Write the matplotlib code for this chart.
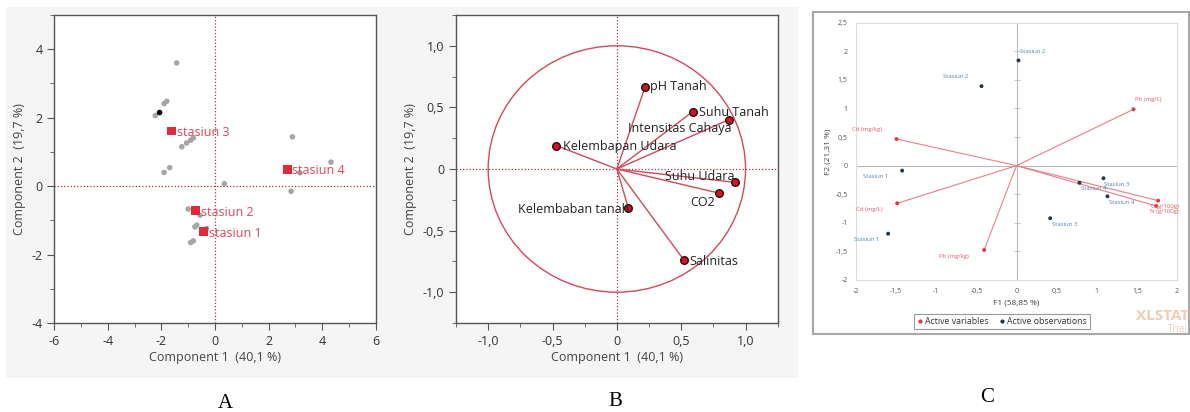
import matplotlib.pyplot as plt
from matplotlib.patches import Rectangle, Circle
from matplotlib.lines import Line2D
from matplotlib.ticker import MultipleLocator

plt.rcParams['font.family'] = ['Open Sans', 'DejaVu Sans']
plt.rcParams['axes.unicode_minus'] = False

# --- A: PCA scores (JMP) ---
obs_x = [-1.43, -1.90, -1.80, -2.23, -1.24, -1.06, -0.91, -0.81, -1.90, -1.69,
         0.35, 2.89, 4.33, 2.84, 3.17, -1.00, -0.56, -0.75, -0.68, -0.31, -0.91, -0.81]
obs_y = [3.60, 2.41, 2.48, 2.06, 1.15, 1.26, 1.34, 1.41, 0.40, 0.54,
         0.07, 1.44, 0.70, -0.15, 0.39, -0.67, -0.85, -1.19, -1.14, -1.24, -1.65, -1.60]
sel_x = [-2.07]
sel_y = [2.15]
stations = ['stasiun 3', 'stasiun 4', 'stasiun 2', 'stasiun 1']
station_x = [-1.62, 2.70, -0.72, -0.42]
station_y = [1.61, 0.49, -0.72, -1.33]

# --- B: PCA loadings (JMP) ---
load_names = ['pH Tanah', 'Suhu Tanah', 'Intensitas Cahaya', 'Kelembapan Udara',
              'Suhu Udara', 'CO2', 'Kelembaban tanah', 'Salinitas']
load_x = [0.22, 0.59, 0.87, -0.47, 0.915, 0.79, 0.09, 0.52]
load_y = [0.667, 0.466, 0.40, 0.19, -0.108, -0.195, -0.32, -0.737]

# --- C: biplot (XLSTAT) ---
c_obs_names = ['Stasiun 2', 'Stasiun 2', 'Stasiun 1', 'Stasiun 1',
               'Stasiun 3', 'Stasiun 4', 'Stasiun 4', 'Stasiun 3']
c_obs_x = [0.025, -0.436, -1.425, -1.60, 1.084, 0.785, 1.134, 0.42]
c_obs_y = [1.84, 1.39, -0.087, -1.19, -0.22, -0.30, -0.536, -0.92]
c_var_names = ['Pb (mg/L)', 'Cd (mg/kg)', 'Cd (mg/L)', 'Pb (mg/kg)', 'C (g/100g)', 'N (g/100g)']
c_var_x = [1.458, -1.495, -1.487, -0.403, 1.765, 1.74]
c_var_y = [0.985, 0.466, -0.659, -1.475, -0.612, -0.705]

W, H = 1190, 412
fig = plt.figure(figsize=(W / 100, H / 100), dpi=100)


def box(left, top, right, bottom):
    return [left / W, 1 - bottom / H, (right - left) / W, (bottom - top) / H]


# light grey backdrop behind the two JMP panels
fig.patches.append(Rectangle((6 / W, 1 - 378 / H), 792 / W, 371 / H,
                             transform=fig.transFigure, facecolor='#f5f5f5',
                             edgecolor='none', zorder=-10))

tick_col = '#333333'
red_line = '#d24a5a'


def jmp_axes(ax):
    ax.set_facecolor('white')
    for s in ax.spines.values():
        s.set_color('#555555')
        s.set_linewidth(1.0)
    ax.tick_params(which='both', direction='out', colors='#555555',
                   labelcolor=tick_col, labelsize=9)
    ax.tick_params(which='major', length=5)
    ax.tick_params(which='minor', length=3)
    ax.axhline(0, color='#b0303f', lw=0.9, ls=(0, (1, 1.6)), zorder=1)
    ax.axvline(0, color='#b0303f', lw=0.9, ls=(0, (1, 1.6)), zorder=1)


# A
ax_a = fig.add_axes(box(54.3, 15, 375.7, 323))
ax_a.set_xlim(-6, 6)
ax_a.set_ylim(-4, 5)
ax_a.xaxis.set_major_locator(MultipleLocator(2))
ax_a.xaxis.set_minor_locator(MultipleLocator(1))
ax_a.yaxis.set_major_locator(MultipleLocator(2))
ax_a.yaxis.set_minor_locator(MultipleLocator(1))
jmp_axes(ax_a)
ax_a.scatter(obs_x, obs_y, s=16, color='#a6a6a6', edgecolors='none', zorder=2)
ax_a.scatter(sel_x, sel_y, s=16, color='black', edgecolors='none', zorder=3)
ax_a.scatter(station_x, station_y, s=40, marker='s', color='#e02a3a',
             edgecolors='none', zorder=4)
for name, x, y in zip(stations, station_x, station_y):
    ax_a.annotate(name, (x, y), xytext=(3.6, -1), textcoords='offset points',
                  ha='left', va='center', fontsize=9, color='#d9485a', zorder=5)
ax_a.set_xlabel('Component 1  (40,1 %)', fontsize=9, color='#444444', labelpad=2)
ax_a.set_ylabel('Component 2  (19,7 %)', fontsize=9, color='#444444', labelpad=4)

# B
ax_b = fig.add_axes(box(456, 15, 777.7, 323))
ax_b.set_xlim(-1.25, 1.25)
ax_b.set_ylim(-1.25, 1.25)
ticks = [-1.0, -0.5, 0, 0.5, 1.0]
tick_lbls = ['-1,0', '-0,5', '0', '0,5', '1,0']
ax_b.set_xticks(ticks, tick_lbls)
ax_b.set_yticks(ticks, tick_lbls)
ax_b.xaxis.set_minor_locator(MultipleLocator(0.25))
ax_b.yaxis.set_minor_locator(MultipleLocator(0.25))
jmp_axes(ax_b)
ax_b.add_patch(Circle((0, 0), 1.0, fill=False, edgecolor=red_line, lw=1.0, zorder=2))
for x, y in zip(load_x, load_y):
    ax_b.plot([0, x], [0, y], color=red_line, lw=1.0, zorder=2)
ax_b.scatter(load_x, load_y, s=30, color='#c8182a', edgecolors='#3a0508',
             linewidths=1.0, zorder=4)
# label offsets in pixels (dx, dy) and alignment
b_offsets = [(5, 0), (6, -1.3), (-100.7, -8.3), (6.3, -1), (-70, 6), (-28.3, -9),
             (1, -1.3), (6, -1.7)]
b_align = ['left'] * 6 + ['right', 'left']
for name, x, y, (dx, dy), ha in zip(load_names, load_x, load_y, b_offsets, b_align):
    ax_b.annotate(name, (x, y), xytext=(dx * 0.72, dy * 0.72), textcoords='offset points',
                  ha=ha, va='center', fontsize=9, color='#222222', zorder=5)
ax_b.set_xlabel('Component 1  (40,1 %)', fontsize=9, color='#444444', labelpad=2)
ax_b.set_ylabel('Component 2  (19,7 %)', fontsize=9, color='#444444', labelpad=4)

# C
fig.patches.append(Rectangle((813 / W, 1 - 334 / H), 376 / W, 322 / H,
                             transform=fig.transFigure, facecolor='white',
                             edgecolor='#a8a8a8', lw=1.5, zorder=-10))
ax_c = fig.add_axes(box(856, 22.7, 1177, 280))
ax_c.set_facecolor('white')
ax_c.set_xlim(-2, 2)
ax_c.set_ylim(-2, 2.5)
cx = [-2, -1.5, -1, -0.5, 0, 0.5, 1, 1.5, 2]
cy = [-2, -1.5, -1, -0.5, 0, 0.5, 1, 1.5, 2, 2.5]
fmt = lambda v: ('%g' % v).replace('.', ',')
ax_c.set_xticks(cx, [fmt(v) for v in cx])
ax_c.set_yticks(cy, [fmt(v) for v in cy])
ax_c.tick_params(length=0, labelsize=5, labelcolor='#555555', pad=6)
for s in ax_c.spines.values():
    s.set_color('#dddddd')
    s.set_linewidth(0.8)
ax_c.axhline(0, color='#bbbbbb', lw=0.8, zorder=1)
ax_c.axvline(0, color='#bbbbbb', lw=0.8, zorder=1)
ax_c.plot([0] * len(cy), cy, ls='none', marker='_', ms=4, mew=0.6,
          color='#bbbbbb', zorder=1)
for x, y in zip(c_var_x, c_var_y):
    ax_c.plot([0, x], [0, y], color='#e98088', lw=0.8, zorder=2)
ax_c.scatter(c_var_x, c_var_y, s=8, color='#e53545', edgecolors='none', zorder=3)
ax_c.scatter(c_obs_x, c_obs_y, s=8, color='#1f3a52', edgecolors='none', zorder=3)
obs_off = [(1.7, 9.3, 'left'), (-26, 10, 'center'), (-26, -6, 'center'), (-21, -6, 'center'),
           (1, -6, 'left'), (1.3, -6, 'left'), (1.7, -6, 'left'), (1.3, -6, 'left')]
for name, x, y, (dx, dy, ha) in zip(c_obs_names, c_obs_x, c_obs_y, obs_off):
    ax_c.annotate(name, (x, y), xytext=(dx * 0.72, dy * 0.72), textcoords='offset points',
                  ha=ha, va='center', fontsize=4.3, color='#4f86b5', zorder=4,
                  annotation_clip=False)
var_off = [(14.7, 9.7, 'center'), (-30, 9.7, 'center'), (-28, -6.3, 'center'),
           (-30.7, -6.3, 'center'), (-7.3, -6.3, 'left'), (-6, -6, 'left')]
for name, x, y, (dx, dy, ha) in zip(c_var_names, c_var_x, c_var_y, var_off):
    ax_c.annotate(name, (x, y), xytext=(dx * 0.72, dy * 0.72), textcoords='offset points',
                  ha=ha, va='center', fontsize=4.3, color='#e65a64', zorder=4,
                  annotation_clip=False)
ax_c.set_xlabel('F1 (58,85 %)', fontsize=6, color='#444444', labelpad=3)
ax_c.set_ylabel('F2 (21,31 %)', fontsize=6, color='#444444', labelpad=3)
handles = [Line2D([], [], ls='none', marker='o', ms=2, color='#e53545', label='Active variables'),
           Line2D([], [], ls='none', marker='o', ms=2, color='#1f3a52', label='Active observations')]
leg = ax_c.legend(handles=handles, ncol=2, loc='center', bbox_to_anchor=(1002 / W, 1 - 321.5 / H),
                  bbox_transform=fig.transFigure, fontsize=6.3, frameon=True, fancybox=False,
                  handlelength=0.6, handletextpad=0.3, columnspacing=1.2, borderpad=0.35)
leg.get_frame().set_edgecolor('#808080')
leg.get_frame().set_linewidth(0.8)
for t in leg.get_texts():
    t.set_color('#333333')
fig.text(1189 / W, 1 - 316 / H, 'XLSTAT', ha='right', va='center', fontsize=11,
         fontweight='bold', color='#f6c9b3')
fig.text(1188 / W, 1 - 329 / H, 'Trial', ha='right', va='center', fontsize=7,
         color='#f6c9b3')

# panel letters
for letter, px, py in [('A', 225, 403), ('B', 615, 402), ('C', 987, 397)]:
    fig.text(px / W, 1 - py / H, letter, ha='center', va='center', fontsize=15,
             family='Liberation Serif', color='black')

fig.savefig('out.png', dpi=100)
